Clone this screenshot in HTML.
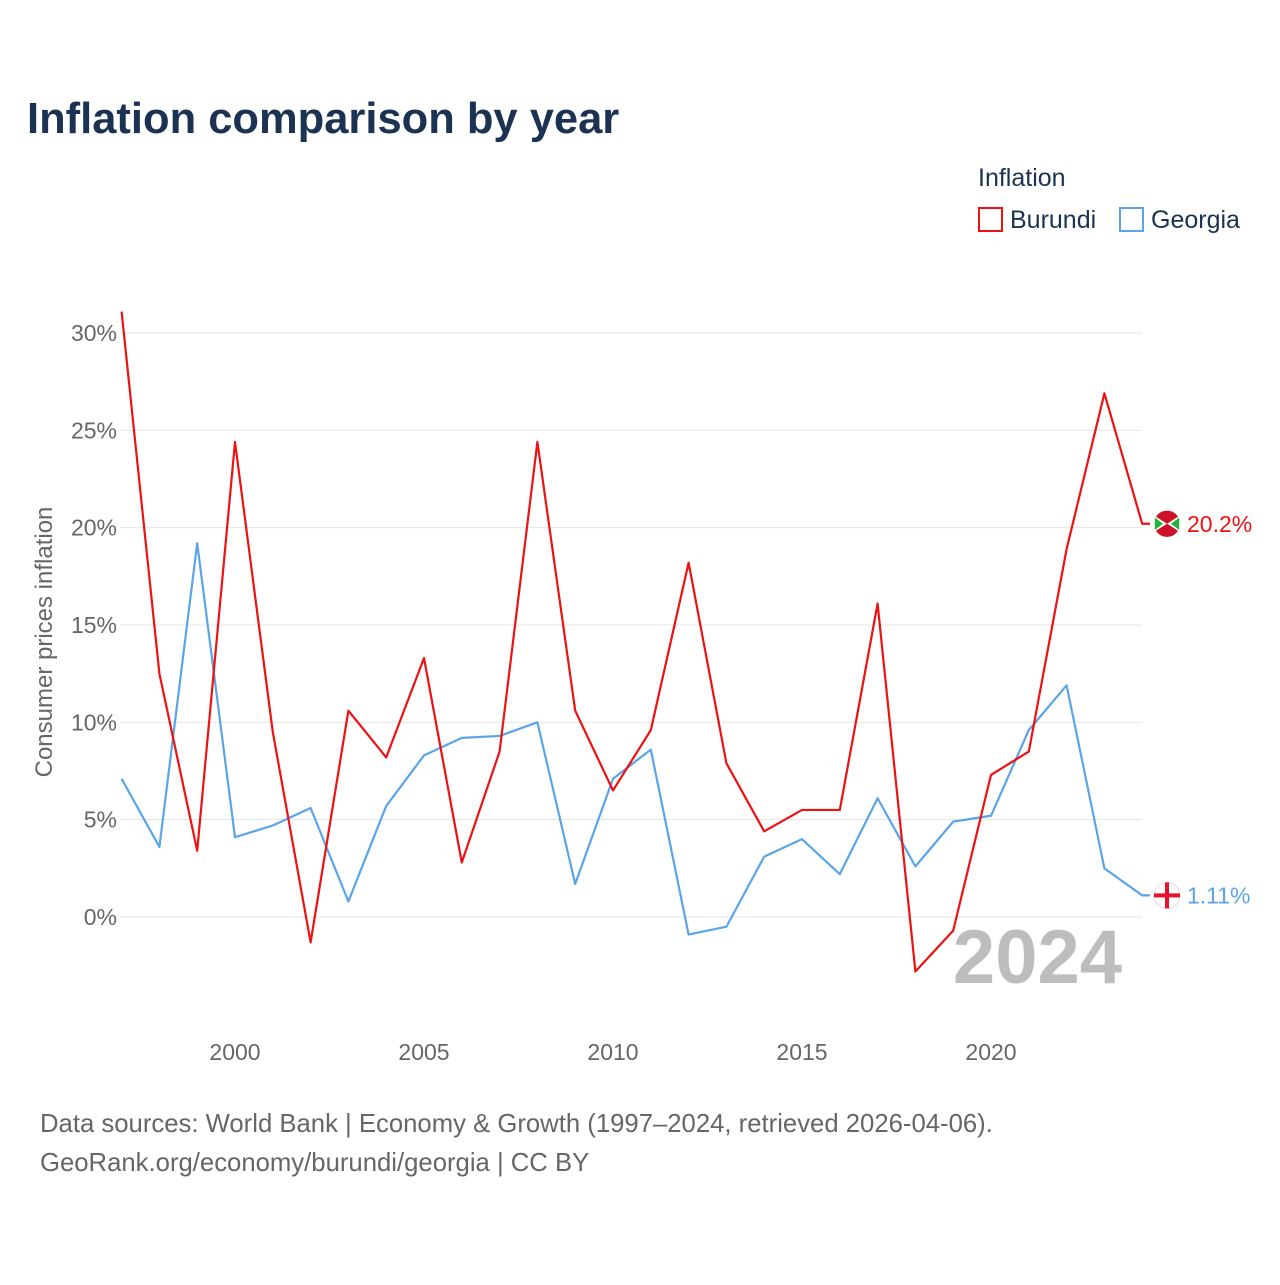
<!DOCTYPE html>
<html><head><meta charset="utf-8"><style>
body{margin:0;background:#fff;font-family:"Liberation Sans",sans-serif;}
svg text{font-family:"Liberation Sans",sans-serif;}
</style></head><body>
<svg width="1280" height="1280" viewBox="0 0 1280 1280">
<text x="27" y="133" font-size="43.5" font-weight="bold" fill="#1b3252">Inflation comparison by year</text>
<text x="978" y="186" font-size="25" fill="#1b3252">Inflation</text>
<g><rect x="979" y="208" width="23" height="23" fill="none" stroke="#ee1111" stroke-width="2"/><text x="1010" y="228" font-size="25" fill="#1b3252">Burundi</text></g>
<g><rect x="1120" y="208" width="23" height="23" fill="none" stroke="#5ba4e8" stroke-width="2"/><text x="1151" y="228" font-size="25" fill="#1b3252">Georgia</text></g>
<g id="grid"></g>
<g id="yticks"></g>
<g id="xticks"></g>
<text transform="translate(52,642) rotate(-90)" text-anchor="middle" font-size="24" fill="#666">Consumer prices inflation</text>
<text x="1122" y="983" text-anchor="end" font-size="76" font-weight="bold" fill="#bdbdbd">2024</text>
<g id="series"></g>
<text x="40" y="1132" font-size="25.7" fill="#666">Data sources: World Bank | Economy &amp; Growth (1997–2024, retrieved 2026-04-06).</text>
<text x="40" y="1171" font-size="25.7" fill="#666">GeoRank.org/economy/burundi/georgia | CC BY</text>
</svg>
<script>
const years=[1997,1998,1999,2000,2001,2002,2003,2004,2005,2006,2007,2008,2009,2010,2011,2012,2013,2014,2015,2016,2017,2018,2019,2020,2021,2022,2023,2024];
const burundi=[31.1,12.5,3.4,24.4,9.5,-1.3,10.6,8.2,13.3,2.8,8.5,24.4,10.6,6.5,9.6,18.2,7.9,4.4,5.5,5.5,16.1,-2.8,-0.7,7.3,8.5,18.9,26.9,20.2];
const georgia=[7.1,3.6,19.2,4.1,4.7,5.6,0.8,5.7,8.3,9.2,9.3,10.0,1.7,7.1,8.6,-0.9,-0.5,3.1,4.0,2.2,6.1,2.6,4.9,5.2,9.6,11.9,2.5,1.11];
const yTicks=[0,5,10,15,20,25,30];
const xTicks=[2000,2005,2010,2015,2020];
const NS="http://www.w3.org/2000/svg";
const xs=y=>235+(y-2000)*37.8;
const ys=v=>917-v*19.467;
function mk(t,a,p){const e=document.createElementNS(NS,t);for(const k in a)e.setAttribute(k,a[k]);p.appendChild(e);return e;}
const grid=document.getElementById('grid'),yt=document.getElementById('yticks'),xt=document.getElementById('xticks'),ser=document.getElementById('series');
yTicks.forEach(v=>{
 const l=mk('line',{x1:120,x2:1142,y1:ys(v),y2:ys(v),stroke:'#e6e6e6','stroke-width':1},grid);
 
 
 const t=mk('text',{x:117,y:ys(v)+8,'text-anchor':'end','font-size':23,fill:'#666'},yt);t.textContent=v+'%';
 
 
});
xTicks.forEach(y=>{
 const t=mk('text',{x:xs(y),y:1060,'text-anchor':'middle','font-size':23,fill:'#666'},xt);t.textContent=y;
 
 
});
function line(vals,col,name,label,flag){
 const pts=vals.map((v,i)=>xs(years[i])+','+ys(v));
 const last=ys(vals[vals.length-1]);
 pts.push('1150,'+last);
 const p=mk('polyline',{points:pts.join(' '),fill:'none',stroke:col,'stroke-width':2.2,'stroke-linejoin':'round'},ser);
 
 
 const g=mk('g',{},ser);
 
 
 mk('circle',{cx:1167,cy:last,r:13,fill:'#fff',stroke:'#ddd'},g);
 if(flag==='bi'){mk('path',{d:`M1156 ${last-8}L1178 ${last+8}M1156 ${last+8}L1178 ${last-8}`,stroke:'#fff','stroke-width':3},g);
  mk('path',{d:`M1156 ${last-7}L1167 ${last}L1178 ${last-7}A13 13 0 0 0 1156 ${last-7}Z`,fill:'#ce1126'},g);
  mk('path',{d:`M1156 ${last+7}L1167 ${last}L1178 ${last+7}A13 13 0 0 1 1156 ${last+7}Z`,fill:'#ce1126'},g);
  mk('path',{d:`M1155 ${last-6}L1163 ${last}L1155 ${last+6}Z`,fill:'#1eb53a'},g);
  mk('path',{d:`M1179 ${last-6}L1171 ${last}L1179 ${last+6}Z`,fill:'#1eb53a'},g);}
 else{mk('rect',{x:1154,y:last-2,width:26,height:4,fill:'#e8112d'},g);mk('rect',{x:1165,y:last-13,width:4,height:26,fill:'#e8112d'},g);}
 const t=mk('text',{x:1187,y:last+8,'font-size':23,fill:col},ser);t.textContent=label;
 
 
}
line(georgia,'#5ba4e8','georgia','1.11%','ge');
line(burundi,'#ee1111','burundi','20.2%','bi');
</script>
</body></html>
